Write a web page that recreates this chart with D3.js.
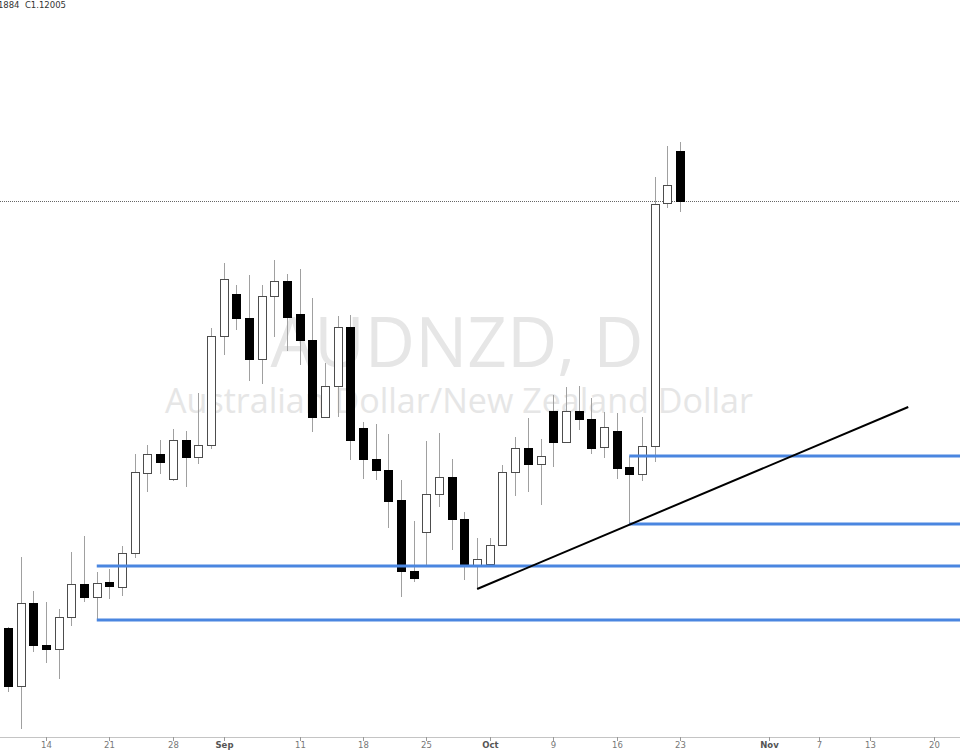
<!DOCTYPE html>
<html>
<head>
<meta charset="utf-8">
<script src="https://cdn.jsdelivr.net/npm/d3@7"></script>
<style>
html,body{margin:0;padding:0;background:#fff;}
svg{display:block;}
</style>
</head>
<body>
<svg id="chart" width="960" height="750"></svg>
<script>
// ---- data ----
const startDate = "2017-08-09";
const opens  = [1.07735,1.07155,1.07985,1.07565,1.07525,1.07845,1.08175,1.08045,1.08195,1.08145,
                1.08485,1.09285,1.09475,1.09225,1.09615,1.09445,1.09565,1.10655,1.11075,1.10835,
                1.10425,1.11055,1.11205,1.10875,1.10615,1.09845,1.10155,1.10745,1.09735,1.09425,
                1.09315,1.09015,1.08305,1.08695,1.09075,1.09245,1.08825,1.08365,1.08375,1.08565,
                1.09295,1.09535,1.09375,1.09905,1.09595,1.09905,1.09825,1.09545,1.09705,1.09345,
                1.09275,1.09555,1.11985,1.12505];
const highs  = [1.07745,1.08445,1.08105,1.07995,1.07925,1.08495,1.08655,1.08295,1.08325,1.08555,
                1.09475,1.09565,1.09615,1.09725,1.09705,1.10085,1.10735,1.11385,1.11165,1.11265,
                1.11165,1.11415,1.11275,1.11325,1.11035,1.10385,1.10855,1.10865,1.09795,1.09775,
                1.09675,1.09215,1.08805,1.09605,1.09685,1.09425,1.08895,1.08635,1.08635,1.09365,
                1.09645,1.09835,1.09625,1.10065,1.10145,1.10155,1.10035,1.09895,1.09885,1.09455,
                1.09845,1.12245,1.12555,1.12595];
const lows   = [1.07095,1.06725,1.07495,1.07385,1.07225,1.07755,1.07995,1.07815,1.08025,1.08055,
                1.08435,1.09095,1.09275,1.09205,1.09145,1.09375,1.09525,1.10465,1.10715,1.10205,
                1.10175,1.10645,1.10505,1.10365,1.09695,1.09845,1.09845,1.09415,1.09225,1.09215,
                1.08735,1.08045,1.08195,1.08355,1.08945,1.08515,1.08215,1.08125,1.08365,1.08555,
                1.09055,1.09095,1.08965,1.09345,1.09595,1.09715,1.09475,1.09435,1.09225,1.08775,
                1.09205,1.09395,1.11935,1.11895];
const closes = [1.07155,1.07985,1.07565,1.07525,1.07845,1.08175,1.08045,1.08185,1.08155,1.08485,
                1.09295,1.09475,1.09395,1.09615,1.09445,1.09565,1.10655,1.11225,1.10835,1.10425,
                1.11055,1.11205,1.10845,1.10615,1.09845,1.10155,1.10745,1.09615,1.09425,1.09315,
                1.09005,1.08305,1.08235,1.09075,1.09245,1.08825,1.08365,1.08425,1.08565,1.09295,
                1.09535,1.09375,1.09455,1.09595,1.09905,1.09825,1.09535,1.09745,1.09335,1.09275,
                1.09555,1.11975,1.12165,1.12005];

// horizontal support/resistance levels: price and the bar they start from
const levelPrices = [1.09455, 1.08775, 1.08355, 1.07815];
const levelStarts = ["2017-10-17","2017-10-17","2017-08-18","2017-08-18"];
// trend line: two anchor points
const trendDates  = ["2017-09-29","2017-11-16"];
const trendPrices = [1.08125, 1.09945];

const lastClose = 1.12005;
const legendText = "L1.11884  C1.12005";
const titleText = "AUDNZD, D";
const subtitleText = "Australian Dollar/New Zealand Dollar";

const tickDates  = ["2017-08-14","2017-08-21","2017-08-28","2017-09-01","2017-09-11","2017-09-18","2017-09-25",
                    "2017-10-02","2017-10-09","2017-10-16","2017-10-23","2017-11-01","2017-11-07","2017-11-13","2017-11-20"];
const tickLabels = ["14","21","28","Sep","11","18","25","Oct","9","16","23","Nov","7","13","20"];

// ---- trading-day calendar (weekdays) ----
const parse = d3.utcParse("%Y-%m-%d");
const fmt = d3.utcFormat("%Y-%m-%d");
const allDays = d3.utcDays(parse(startDate), parse("2017-12-01")).filter(d => d.getUTCDay() !== 0 && d.getUTCDay() !== 6);
const idxOf = new Map(allDays.map((d, i) => [fmt(d), i]));

const W = 960, H = 750;
const svg = d3.select("#chart");

const x = d3.scaleLinear().domain([0, 53]).range([8, 680]);
const y = d3.scaleLinear().domain([1.12005, 1.07005]).range([201, 701]);

// ---- watermark ----
const wm = svg.append("g").attr("fill", "#e6e6e6").attr("font-family", "'Open Sans','Noto Sans',sans-serif").attr("text-anchor", "middle");
function fitText(txt, cx, baseline, targetW, startSize) {
  const t = wm.append("text").attr("x", cx).attr("y", baseline).attr("font-size", startSize).text(txt);
  const w = t.node().getComputedTextLength();
  t.attr("font-size", startSize * targetW / w);
  return t;
}
fitText(titleText, 457, 367, 373, 68);
fitText(subtitleText, 459, 413, 588, 36);

// ---- axis ----
const axisY = 737;
svg.append("line").attr("x1", 0).attr("x2", W).attr("y1", axisY + 0.5).attr("y2", axisY + 0.5)
  .attr("stroke", "#c4c4c4").attr("stroke-width", 1);
const axisG = svg.append("g");
tickDates.forEach((d, i) => {
  const px = Math.round(x(idxOf.get(d))) + 0.5;
  axisG.append("line").attr("x1", px).attr("x2", px).attr("y1", axisY).attr("y2", axisY + 4)
    .attr("stroke", "#999").attr("stroke-width", 1);
  const isMonth = isNaN(+tickLabels[i]);
  axisG.append("text").attr("x", px).attr("y", 748).attr("text-anchor", "middle")
    .attr("font-family", "'DejaVu Sans',Verdana,sans-serif").attr("font-size", 8.5)
    .attr("font-weight", isMonth ? "bold" : "normal")
    .attr("fill", isMonth ? "#555" : "#777").text(tickLabels[i]);
});

// ---- last price dotted line ----
svg.append("line").attr("x1", 0).attr("x2", W)
  .attr("y1", Math.round(y(lastClose)) + 0.5).attr("y2", Math.round(y(lastClose)) + 0.5)
  .attr("stroke", "#666").attr("stroke-width", 1).attr("stroke-dasharray", "1,1");

// ---- candles ----
const candles = opens.map((o, i) => ({i, o, h: highs[i], l: lows[i], c: closes[i]}));
const bw = 8;
const cg = svg.append("g").attr("shape-rendering", "crispEdges");
candles.forEach(d => {
  const cx = Math.round(x(d.i));
  cg.append("line").attr("x1", cx + 0.5).attr("x2", cx + 0.5)
    .attr("y1", Math.round(y(d.h))).attr("y2", Math.round(y(d.l)))
    .attr("stroke", "#a0a0a0").attr("stroke-width", 1);
  const top = Math.round(y(Math.max(d.o, d.c)));
  const bot = Math.round(y(Math.min(d.o, d.c)));
  const up = d.c >= d.o;
  cg.append("rect").attr("x", cx - bw / 2 + 0.5).attr("y", top + 0.5)
    .attr("width", bw).attr("height", Math.max(1, bot - top))
    .attr("fill", up ? "#fff" : "#000").attr("stroke", up ? "#4d4d4d" : "#000").attr("stroke-width", 1);
});

// ---- levels ----
const lg = svg.append("g");
levelPrices.forEach((p, k) => {
  const yy = y(p);
  lg.append("line").attr("x1", x(idxOf.get(levelStarts[k]))).attr("x2", W)
    .attr("y1", yy).attr("y2", yy).attr("stroke", "#4a86e0").attr("stroke-width", 3);
});

// ---- trend line ----
svg.append("line")
  .attr("x1", x(idxOf.get(trendDates[0]))).attr("y1", y(trendPrices[0]))
  .attr("x2", x(idxOf.get(trendDates[1]))).attr("y2", y(trendPrices[1]))
  .attr("stroke", "#000").attr("stroke-width", 2);

// ---- legend (clipped at the left edge, as in the reference) ----
svg.append("text").attr("x", 66).attr("y", 8).attr("text-anchor", "end")
  .attr("font-family", "'DejaVu Sans',Verdana,sans-serif").attr("font-size", 8.5)
  .attr("fill", "#333").style("white-space", "pre").text(legendText);
</script>
</body>
</html>
